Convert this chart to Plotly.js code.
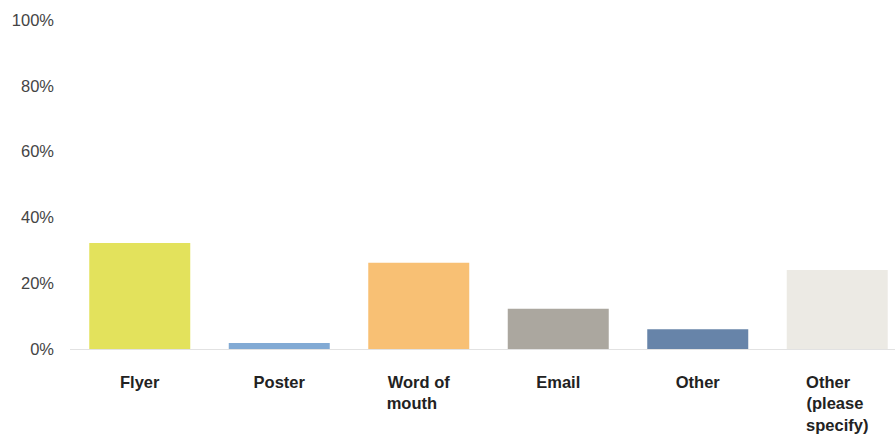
<!DOCTYPE html>
<html>
<head>
<meta charset="utf-8">
<script src="https://cdn.plot.ly/plotly-3.0.1.min.js"></script>
<style>html,body{margin:0;padding:0;background:#fff;}#chart{width:895px;height:437px;}</style>
</head>
<body>
<div id="chart"></div>
<script>
const categories = ["Flyer", "Poster", "Word of<br>mouth\u00a0\u00a0\u00a0", "Email", "Other", "Other\u00a0\u00a0\u00a0\u00a0<br>(please\u00a0<br>specify)"];
const values = [0.322, 0.018, 0.262, 0.122, 0.060, 0.240];
const colors = ["#E3E25C", "#82AAD4", "#F8C074", "#ABA79F", "#6784A9", "#ECEAE4"];
const yTickVals = [0, 0.2, 0.4, 0.6, 0.8, 1.0];
const yTickText = ["0%", "20%", "40%", "60%", "80%", "100%"];

const trace = {
  type: "bar",
  x: categories.map((c, i) => i),
  y: values,
  marker: { color: colors, line: { width: 0 } },
  hoverinfo: "none"
};

const layout = {
  width: 895, height: 437,
  margin: { l: 70, r: 0, t: 20, b: 88, pad: 0 },
  paper_bgcolor: "#fff", plot_bgcolor: "#fff",
  bargap: 0.276,
  showlegend: false,
  xaxis: {
    range: [-0.5, 5.414],
    tickvals: categories.map((c, i) => i),
    ticktext: categories.map(c => "<b>" + c + "</b>"),
    showgrid: false, zeroline: false,
    showline: true, linecolor: "#E2E2E2", linewidth: 1,
    ticks: "", ticklabelstandoff: 18,
    tickfont: { family: "Liberation Sans, Arial, sans-serif", size: 16.5, color: "#222" },
    fixedrange: true
  },
  yaxis: {
    range: [0, 1],
    tickvals: yTickVals, ticktext: yTickText,
    showgrid: false, zeroline: false, showline: false,
    ticks: "", ticklabelstandoff: 15,
    tickfont: { family: "Liberation Sans, Arial, sans-serif", size: 16.5, color: "#444" },
    fixedrange: true
  }
};

Plotly.newPlot("chart", [trace], layout, { displayModeBar: false, staticPlot: true });
</script>
</body>
</html>
